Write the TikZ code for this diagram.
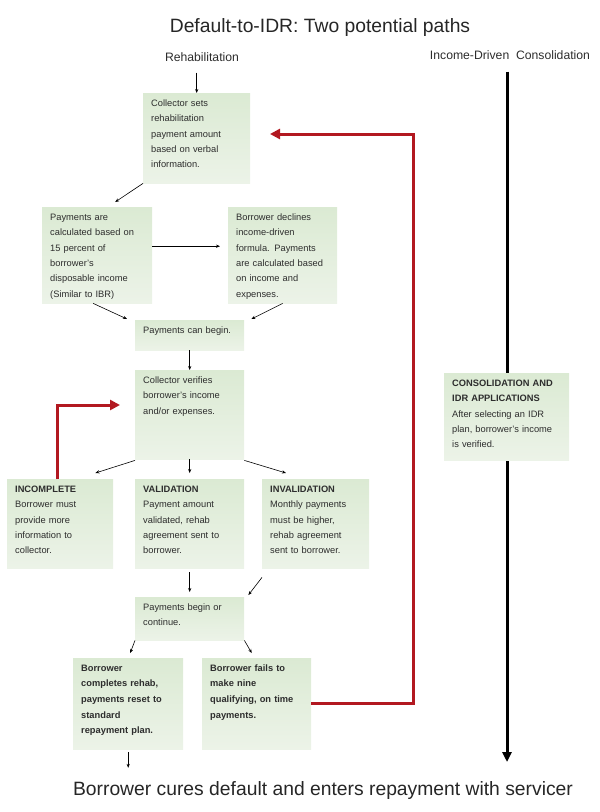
\documentclass[tikz,border=0pt]{standalone}
\usepackage{fontspec}
\setmainfont{Liberation Sans}
\usetikzlibrary{arrows.meta,calc}

\definecolor{cardtop}{RGB}{219,234,211}
\definecolor{cardbot}{RGB}{236,243,232}
\definecolor{backred}{RGB}{178,24,32}
\definecolor{inktext}{RGB}{45,45,45}

\begin{document}
\begin{tikzpicture}[
		x=1pt, y=-1pt,
		card/.style 2 args={rectangle, anchor=north west, top color=cardtop, bottom color=cardbot, text width=#1, text depth=#2, text height=8pt, inner xsep=8pt, inner ysep=5pt, align=left, text=inktext, font=\fontsize{9.3}{15.4}\selectfont},
		heading/.style={inner sep=0pt, text=inktext, font=\fontsize{12.2}{14}\selectfont},
		banner/.style={inner sep=0pt, text=black!85, font=\fontsize{19.3}{22}\selectfont},
		arr/.style={draw=black, line width=0.6pt, -{Stealth[length=4pt,width=3.2pt]}},
		backloop/.style={draw=backred, line width=3pt, -{Triangle[length=10pt,width=10pt]}},
		idrline/.style={draw=black, line width=3pt, -{Triangle[length=10pt,width=9pt]}}
		]
	\useasboundingbox (0,0) rectangle (600,812);

	\node[banner] (title) at (320,28) {Default-to-IDR: Two potential paths};
	\node[heading] (rehab) at (202,57) {Rehabilitation};
	\node[heading] (idr) at (510,55) {Income-Driven~ Consolidation};
	\coordinate (idrend) at (507,762);
	\draw[idrline] ([yshift=-12pt]idr.south -| idrend) -- (idrend);

	\node[card={91pt}{72pt}] (setamt) at (143,93) {Collector sets\\rehabilitation\\payment amount\\based on verbal\\information.};
	\node[card={94pt}{78pt}] (calc15) at (42,207) {Payments are\\calculated based on\\15 percent of\\borrower's\\disposable income\\(Similar to IBR)};
	\node[card={93pt}{78pt}] (declines) at (228,207) {Borrower declines\\income-driven\\formula. Payments\\are calculated based\\on income and\\expenses.};
	\node[card={93pt}{12pt}] (canbegin) at (135,320) {Payments can begin.};
	\node[card={93pt}{71pt}] (verifies) at (135,370) {Collector verifies\\borrower's income\\and/or expenses.};
	\node[card={90pt}{71pt}] (incomplete) at (7,479) {\textbf{INCOMPLETE}\\Borrower must\\provide more\\information to\\collector.};
	\node[card={93pt}{71pt}] (validation) at (135,479) {\textbf{VALIDATION}\\Payment amount\\validated, rehab\\agreement sent to\\borrower.};
	\node[card={91pt}{71pt}] (invalidation) at (262,479) {\textbf{INVALIDATION}\\Monthly payments\\must be higher,\\rehab agreement\\sent to borrower.};
	\node[card={93pt}{25pt}] (continue) at (135,597) {Payments begin or\\continue.};
	\node[card={94pt}{73pt}, font=\fontsize{9.3}{15.6}\selectfont\bfseries] (completes) at (73,658) {Borrower\\completes rehab,\\payments reset to\\standard\\repayment plan.};
	\node[card={93pt}{73pt}, font=\fontsize{9.3}{15.6}\selectfont\bfseries] (fails) at (202,658) {Borrower fails to\\make nine\\qualifying, on time\\payments.};
	\node[card={109pt}{69pt}] (consol) at (444,373) {\textbf{CONSOLIDATION AND}\\\textbf{IDR APPLICATIONS}\\After selecting an IDR\\plan, borrower's income\\is verified.};

	\node[banner] (cures) at (323,790) {Borrower cures default and enters repayment with servicer};

	\coordinate (backcorner) at (413,134);
	\coordinate (backtip) at (270,134);
	\draw[backloop] (fails.east) -| (backcorner) -- (backtip);
	\coordinate (retrytip) at (120,405);
	\draw[backloop] ([xshift=-3pt]incomplete.north) |- (retrytip);

	\draw[arr] ([yshift=-11pt]rehab.south -| setamt.north) -- (setamt.north);
	\draw[arr] (setamt.south west) -- ([xshift=18pt,yshift=5pt]calc15.north);
	\draw[arr] ([yshift=9pt]calc15.east) -- ([yshift=9pt,xshift=-8pt]declines.west);
	\draw[arr] ([xshift=-4pt]calc15.south) -- ([xshift=-8pt,yshift=1pt]canbegin.north west);
	\draw[arr] (declines.south) -- ([xshift=7pt,yshift=1pt]canbegin.north east);
	\draw[arr] (canbegin.south) -- (verifies.north);
	\draw[arr] ([yshift=-1pt]verifies.south west) -- ([xshift=-18pt,yshift=6pt]incomplete.north east);
	\draw[arr] (verifies.south) -- ([yshift=6pt]validation.north);
	\draw[arr] ([yshift=-1pt]verifies.south east) -- ([xshift=24pt,yshift=6pt]invalidation.north west);
	\draw[arr] ([yshift=-4pt]validation.south) -- ([yshift=5pt]continue.north);
	\draw[arr] ([yshift=-9pt]invalidation.south west) -- ([xshift=4pt,yshift=2pt]continue.north east);
	\draw[arr] (continue.south west) -- ([xshift=2pt,yshift=5pt]completes.north);
	\draw[arr] (continue.south east) -- ([xshift=-5pt,yshift=5pt]fails.north);
	\draw[arr, shorten <=3pt, shorten >=13pt] (completes.south) -- (completes.south |- cures.north);
\end{tikzpicture}
\end{document}
